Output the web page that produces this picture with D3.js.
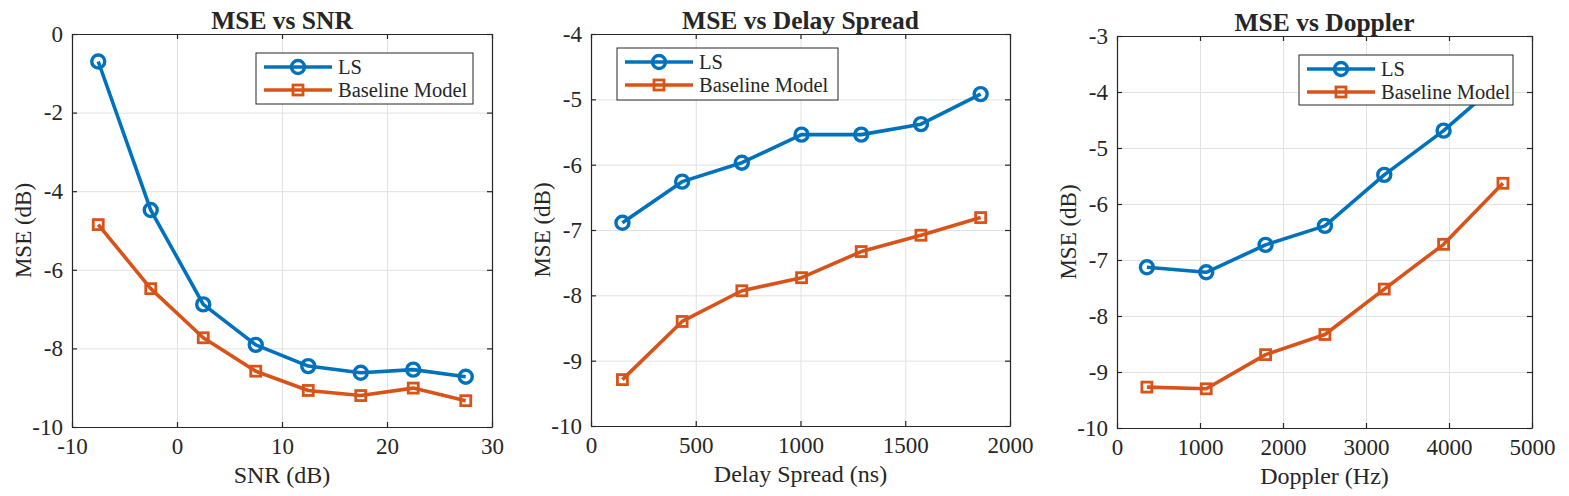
<!DOCTYPE html>
<html>
<head>
<meta charset="utf-8">
<script src="https://cdn.jsdelivr.net/npm/d3@7"></script>
<style>
	body { margin: 0; background: #fff; }
	svg { display: block; font-family: "Liberation Serif", "DejaVu Serif", serif; }
</style>
</head>
<body>
<svg id="chart" width="1569" height="496"></svg>
<script>
// data
const snrX = [-7.5, -2.5, 2.5, 7.5, 12.5, 17.5, 22.5, 27.5];
const snrLS = [-0.70, -4.48, -6.88, -7.91, -8.45, -8.62, -8.54, -8.72];
const snrBase = [-4.85, -6.48, -7.73, -8.58, -9.07, -9.20, -9.01, -9.33];

const delayX = [150, 435, 720, 1005, 1290, 1575, 1860];
const delayLS = [-6.89, -6.26, -5.97, -5.54, -5.54, -5.38, -4.92];
const delayBase = [-9.29, -8.40, -7.93, -7.73, -7.33, -7.08, -6.81];

const dopplerX = [360, 1075, 1790, 2505, 3220, 3935, 4650];
const dopplerLS = [-7.13, -7.22, -6.73, -6.39, -5.48, -4.69, -3.77];
const dopplerBase = [-9.27, -9.30, -8.69, -8.33, -7.52, -6.72, -5.63];

const seriesNames = ["LS", "Baseline Model"];
const BLUE = "#0072BD";
const ORANGE = "#D95319";
const INK = "#262626";

const panels = [
	{
		title: "MSE vs SNR", xLabel: "SNR (dB)",
		x: snrX, ls: snrLS, base: snrBase,
		xDomain: [-10, 30], xTicks: [-10, 0, 10, 20, 30],
		yDomain: [-10, 0], yTicks: [-10, -8, -6, -4, -2, 0],
		box: { l: 72, r: 492, t: 34, b: 427 },
		legend: { x: 256, y: 53, w: 217, h: 51 },
	},
	{
		title: "MSE vs Delay Spread", xLabel: "Delay Spread (ns)",
		x: delayX, ls: delayLS, base: delayBase,
		xDomain: [0, 2000], xTicks: [0, 500, 1000, 1500, 2000],
		yDomain: [-10, -4], yTicks: [-10, -9, -8, -7, -6, -5, -4],
		box: { l: 591, r: 1010, t: 34, b: 426 },
		legend: { x: 617, y: 48, w: 221, h: 52 },
	},
	{
		title: "MSE vs Doppler", xLabel: "Doppler (Hz)",
		x: dopplerX, ls: dopplerLS, base: dopplerBase,
		xDomain: [0, 5000], xTicks: [0, 1000, 2000, 3000, 4000, 5000],
		yDomain: [-10, -3], yTicks: [-10, -9, -8, -7, -6, -5, -4, -3],
		box: { l: 1117, r: 1532, t: 36, b: 428 },
		legend: { x: 1299, y: 55, w: 214, h: 50 },
	},
];

const svg = d3.select("#chart");

function drawMarker(g, type, color) {
	if (type === "circle") {
		g.append("circle").attr("r", 6.5)
			.style("fill", "none").style("stroke", color).style("stroke-width", 3.4);
	} else {
		g.append("rect").attr("x", -5).attr("y", -5).attr("width", 10).attr("height", 10)
			.style("fill", "none").style("stroke", color).style("stroke-width", 2.8);
	}
}

function drawPanel(p) {
	const { l, r, t, b } = p.box;
	const w = r - l, h = b - t;
	const x = d3.scaleLinear().domain(p.xDomain).range([l, r]);
	const y = d3.scaleLinear().domain(p.yDomain).range([b, t]);
	const g = svg.append("g");

	// grid
	g.append("g").attr("transform", `translate(0,${b})`)
		.call(d3.axisBottom(x).tickValues(p.xTicks).tickSize(-h).tickFormat(""))
		.call((s) => s.select(".domain").remove())
		.selectAll("line").style("stroke", "#e2e2e2").style("stroke-width", 1);
	g.append("g").attr("transform", `translate(${l},0)`)
		.call(d3.axisLeft(y).tickValues(p.yTicks).tickSize(-w).tickFormat(""))
		.call((s) => s.select(".domain").remove())
		.selectAll("line").style("stroke", "#e2e2e2").style("stroke-width", 1);

	// axes with inward ticks on all sides
	const axes = [
		{ ax: d3.axisBottom(x).tickValues(p.xTicks), tr: `translate(0,${b})`, lab: true, pad: 11 },
		{ ax: d3.axisTop(x).tickValues(p.xTicks), tr: `translate(0,${t})`, lab: false, pad: 3 },
		{ ax: d3.axisLeft(y).tickValues(p.yTicks), tr: `translate(${l},0)`, lab: true, pad: 9 },
		{ ax: d3.axisRight(y).tickValues(p.yTicks), tr: `translate(${r},0)`, lab: false, pad: 3 },
	];
	for (const a of axes) {
		const ag = g.append("g").attr("transform", a.tr)
			.call(a.ax.tickSizeInner(-5).tickSizeOuter(0).tickPadding(a.pad)
				.tickFormat(a.lab ? d3.format("") : ""));
		ag.select(".domain").style("stroke", INK).style("stroke-width", 1.2);
		ag.selectAll(".tick line").style("stroke", INK).style("stroke-width", 1.2);
		ag.selectAll(".tick text")
			.style("font-family", "Liberation Serif")
			.style("font-size", "23px").style("fill", INK);
	}
	g.selectAll(".tick text").text(function () {
		return d3.select(this).text().replace("\u2212", "-");
	});

	// series
	const series = [
		{ vals: p.ls, color: BLUE, marker: "circle" },
		{ vals: p.base, color: ORANGE, marker: "square" },
	];
	const line = d3.line().x((d) => x(d[0])).y((d) => y(d[1]));
	for (const s of series) {
		const pts = p.x.map((v, i) => [v, s.vals[i]]);
		g.append("path").datum(pts).attr("d", line)
			.style("fill", "none").style("stroke", s.color)
			.style("stroke-width", 3.6).style("stroke-linejoin", "round");
		pts.forEach((d) => {
			drawMarker(g.append("g").attr("transform", `translate(${x(d[0])},${y(d[1])})`), s.marker, s.color);
		});
	}

	// title and labels
	g.append("text").attr("x", (l + r) / 2).attr("y", t - 5)
		.attr("text-anchor", "middle").text(p.title)
		.style("font-size", "25.5px").style("font-weight", "700").style("fill", INK);
	g.append("text").attr("x", (l + r) / 2).attr("y", b + 56)
		.attr("text-anchor", "middle").text(p.xLabel)
		.style("font-size", "24px").style("fill", INK);
	g.append("text")
		.attr("transform", `translate(${l - 41},${(t + b) / 2}) rotate(-90)`)
		.attr("text-anchor", "middle").text("MSE (dB)")
		.style("font-size", "23px").style("fill", INK);

	// legend
	const L = p.legend;
	const lg = g.append("g").attr("transform", `translate(${L.x},${L.y})`);
	lg.append("rect").attr("width", L.w).attr("height", L.h)
		.style("fill", "#fff").style("stroke", INK).style("stroke-width", 1);
	series.forEach((s, i) => {
		const ry = 14 + i * 23;
		lg.append("line").attr("x1", 8).attr("x2", 76).attr("y1", ry).attr("y2", ry)
			.style("stroke", s.color).style("stroke-width", 3.6);
		drawMarker(lg.append("g").attr("transform", `translate(42,${ry})`), s.marker, s.color);
		lg.append("text").attr("x", 82).attr("y", ry).attr("dy", "0.35em")
			.text(seriesNames[i]).style("font-size", "20.5px").style("fill", INK);
	});
}

panels.forEach(drawPanel);
</script>
</body>
</html>
